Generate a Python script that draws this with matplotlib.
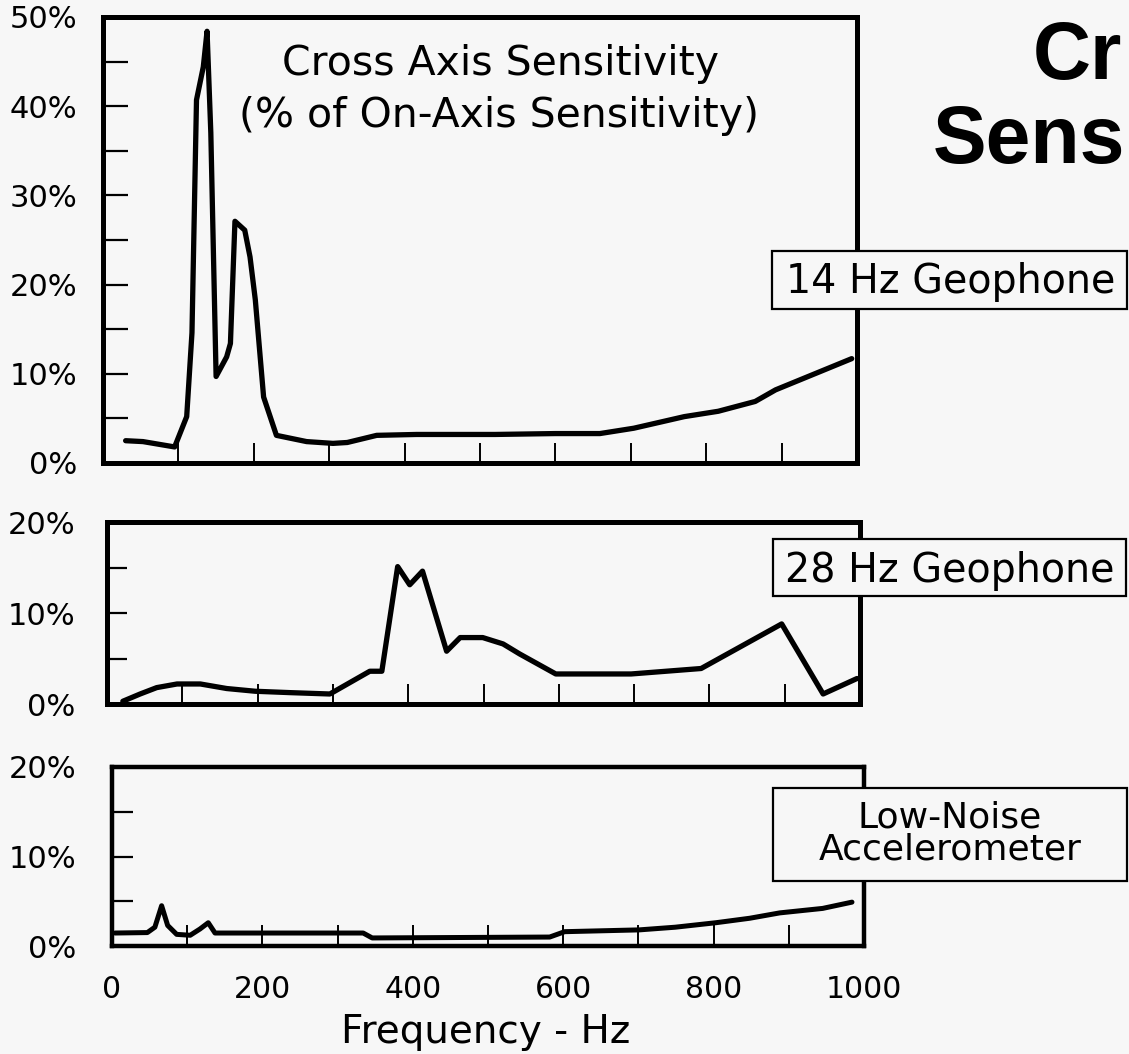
import matplotlib
matplotlib.use('Agg')
import matplotlib.pyplot as plt
from matplotlib.patches import Rectangle

# ---------------- data ----------------
geo14_freq = [30, 53, 95, 111, 118, 124, 133, 138, 143, 150, 164, 169, 175, 188, 195,
              202, 213, 230, 270, 305, 324, 363, 416, 520, 600, 659, 704, 771, 816,
              865, 892, 993]
geo14_pct = [2.5, 2.4, 1.8, 5.2, 14.6, 40.7, 44.4, 48.4, 37.0, 9.7, 11.9, 13.4, 27.1,
             26.1, 23.1, 18.3, 7.4, 3.1, 2.4, 2.2, 2.3, 3.1, 3.2, 3.2, 3.3, 3.3, 3.9,
             5.2, 5.8, 6.9, 8.2, 11.7]

geo28_freq = [21, 44, 66, 93, 124, 159, 197, 243, 296, 349, 365, 386, 402, 419, 451,
              469, 499, 526, 548, 596, 696, 789, 896, 951, 996]
geo28_pct = [0.3, 1.1, 1.8, 2.2, 2.2, 1.7, 1.4, 1.25, 1.1, 3.6, 3.6, 15.1, 13.1, 14.6,
             5.8, 7.3, 7.3, 6.6, 5.5, 3.3, 3.3, 3.9, 8.8, 1.1, 2.8]

acc_freq = [4, 47, 57, 66, 74, 86, 104, 117, 128, 137, 334, 346, 582, 602, 701, 749,
            803, 848, 888, 945, 984]
acc_pct = [1.45, 1.5, 2.1, 4.5, 2.3, 1.3, 1.2, 1.9, 2.6, 1.45, 1.45, 0.9, 1.0, 1.6,
           1.8, 2.1, 2.6, 3.1, 3.7, 4.2, 4.9]

x_ticks = list(range(0, 1001, 100))
x_labels = ['0', '', '200', '', '400', '', '600', '', '800', '', '1000']
top_yticks = list(range(0, 51, 5))
top_ylabels = [f'{v}%' if v % 10 == 0 else '' for v in top_yticks]
small_yticks = [0, 5, 10, 15, 20]
small_ylabels = ['0%', '', '10%', '', '20%']

panel_labels = ['14 Hz Geophone', '28 Hz Geophone', 'Low-Noise', 'Accelerometer']
inner_title = ['Cross Axis Sensitivity', '(% of On-Axis Sensitivity)']
xlabel = 'Frequency - Hz'

# ---------------- layout ----------------
W, H = 1129, 1054
BG = '#f7f7f7'
plt.rcParams['font.family'] = ['DejaVu Sans']

fig = plt.figure(figsize=(W / 100, H / 100), dpi=100, facecolor=BG)


def add_ax(l, t, r, b):
    return fig.add_axes([l / W, 1 - b / H, (r - l) / W, (b - t) / H])


def fx(x):
    return x / W


def fy(y):
    return 1 - y / H


def style(ax, ylim, yticks, ylabels, ylen, xlen, ypad, spine_lw, show_x):
    ax.set_facecolor(BG)
    ax.set_xlim(0, 1000)
    ax.set_ylim(*ylim)
    for s in ax.spines.values():
        s.set_linewidth(spine_lw)
        s.set_color('black')
    ax.set_yticks(yticks)
    ax.set_yticklabels(ylabels)
    ax.set_xticks(x_ticks)
    if show_x:
        ax.set_xticklabels(x_labels)
    else:
        ax.set_xticklabels([])
    ax.tick_params(axis='y', direction='in', length=ylen, width=1.6,
                   labelsize=22, pad=ypad, colors='black')
    ax.tick_params(axis='x', direction='in', length=xlen, width=1.4,
                   labelsize=21.5, pad=21, colors='black')


# top panel
ax1 = add_ax(103, 17, 857, 463)
ax1.plot(geo14_freq, geo14_pct, color='black', lw=3.8, solid_joinstyle='round',
         solid_capstyle='round')
style(ax1, (0, 50), top_yticks, top_ylabels, 18, 14.5, 18.5, 3.6, False)

# middle panel
ax2 = add_ax(107, 522, 860, 704)
ax2.plot(geo28_freq, geo28_pct, color='black', lw=3.8, solid_joinstyle='round',
         solid_capstyle='round')
style(ax2, (0, 20), small_yticks, small_ylabels, 14.5, 14.5, 23, 3.6, False)

# bottom panel
ax3 = add_ax(112, 767, 864, 946)
ax3.plot(acc_freq, acc_pct, color='black', lw=3.6, solid_joinstyle='round',
         solid_capstyle='round')
style(ax3, (0, 20), small_yticks, small_ylabels, 15, 15, 26, 3.2, True)

# inner title in top panel
fig.text(fx(500), fy(75), inner_title[0], fontsize=29.5, ha='center', va='baseline')
fig.text(fx(499), fy(127), inner_title[1], fontsize=29.5, ha='center', va='baseline')

# big (cut-off) slide title
fig.text(fx(1033), fy(79), 'Cr', fontsize=58, fontweight='bold',
         family=['Liberation Sans', 'DejaVu Sans'], ha='left', va='baseline')
fig.text(fx(933), fy(163), 'Sens', fontsize=58, fontweight='bold',
         family=['Liberation Sans', 'DejaVu Sans'], ha='left', va='baseline')

# label boxes
boxes = [(772, 251, 1127, 309), (773, 539, 1126, 596), (773, 788, 1127, 881)]
for (l, t, r, b) in boxes:
    fig.patches.append(Rectangle((fx(l), fy(b)), (r - l) / W, (b - t) / H,
                                 transform=fig.transFigure, facecolor=BG,
                                 edgecolor='black', lw=1.6, zorder=5))

fig.text(fx(951), fy(293), panel_labels[0], fontsize=28.5, ha='center',
         va='baseline', zorder=6)
fig.text(fx(950), fy(582), panel_labels[1], fontsize=28.5, ha='center',
         va='baseline', zorder=6)
fig.text(fx(950), fy(828), panel_labels[2], fontsize=26, ha='center',
         va='baseline', zorder=6)
fig.text(fx(950), fy(860), panel_labels[3], fontsize=26, ha='center',
         va='baseline', zorder=6)

# x label
fig.text(fx(486), fy(1043), xlabel, fontsize=28, ha='center', va='baseline')

fig.savefig('out.png', dpi=100, facecolor=BG)
